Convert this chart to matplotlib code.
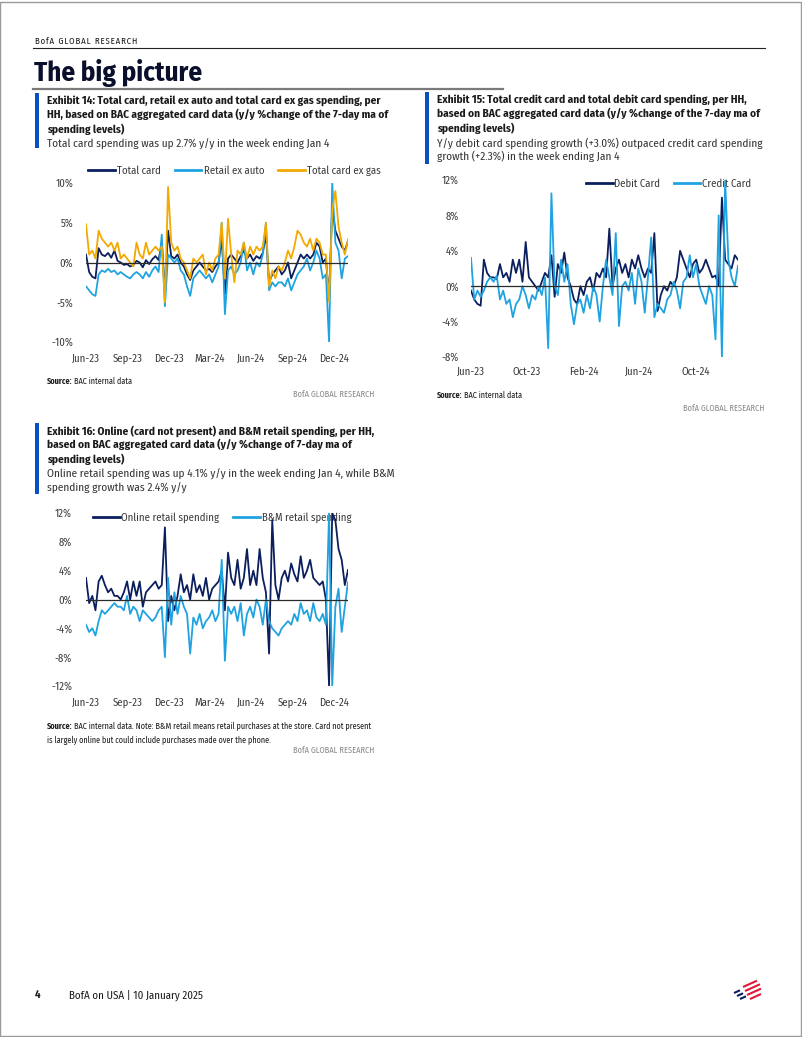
import matplotlib
matplotlib.use("Agg")
import matplotlib.pyplot as plt
import matplotlib.dates as mdates
from matplotlib.lines import Line2D
from matplotlib.patches import Rectangle
import pandas as pd

W, H = 802, 1037

# ---------------- data (weekly readings of the 7-day ma y/y % change) ----------------
dates = pd.date_range("2023-06-01", periods=84, freq="7D")

total_card = [1.0, -1.2, -1.8, -2.0, 1.8, 1.0, 0.8, 1.2, 0.6, 1.5,
              0.2, 0.0, -0.3, -0.2, -0.5, -0.3, 0.2, 0.0, -0.6, 0.3,
              -0.2, 0.4, 0.8, 0.3, 2.5, -3.5, 4.0, 0.8, 0.5, 1.0,
              0.0, -0.5, -1.5, -2.2, -1.0, -0.5, 0.0, -0.5, -1.0, -0.8,
              -1.2, -0.5, 0.0, 3.0, -4.0, 0.5, 1.0, 0.5, 0.0, 0.8,
              1.5, 0.5, 1.0, 0.2, 0.8, 0.5, 1.2, 3.5, -2.5, -1.5,
              -1.0, -0.5, -1.5, -1.0, 0.0, -2.0, -1.0, 0.0, 1.0, 0.5,
              1.0, 0.5, 1.0, 2.5, 2.0, 0.0, 0.5, -4.5, 7.0, 4.0,
              3.0, 2.0, 1.5, 2.7]
retail_ex_auto = [-3.0, -3.5, -4.0, -4.2, -1.5, -1.0, -1.2, -0.8, -1.2, -1.0,
                  -1.5, -1.2, -1.5, -1.8, -2.0, -1.5, -1.2, -1.5, -2.0, -1.2,
                  -1.8, -1.0, -0.5, -1.2, 3.5, -5.5, 1.0, 0.5, 0.0, 0.5,
                  -1.0, -1.5, -3.0, -4.2, -2.0, -1.5, -1.0, -1.5, -2.0, -1.5,
                  -2.5, -1.5, -0.5, 5.0, -6.5, -1.0, -0.5, -1.5, -1.0, 0.0,
                  2.5, -1.0, 0.0, -1.5, 0.0, -0.5, 1.0, 5.0, -3.5, -2.5,
                  -3.0, -2.5, -2.5, -3.0, -2.0, -3.5, -2.5, -1.5, -1.0, -0.5,
                  0.5, -1.0, 0.0, 1.5, 0.5, -2.0, -1.5, -10.0, 10.0, 2.5,
                  1.5, -2.0, 0.5, 0.8]
total_card_ex_gas = [4.8, 1.0, 1.5, 0.5, 4.0, 3.0, 2.5, 2.0, 2.5, 1.5,
                     2.5, 0.5, 1.0, 0.5, 0.0, -0.5, 2.5, 1.0, 0.5, 2.5,
                     1.0, 1.5, 2.0, 1.5, 2.0, -5.0, 9.5, 2.5, 1.5, 2.0,
                     0.5, 0.0, -1.0, -2.0, 0.5, 0.0, 0.5, 1.0, -1.5, 0.0,
                     -1.0, 0.5, 1.0, 5.0, -2.0, 5.5, 1.0, -2.5, 1.5, 1.0,
                     2.5, 0.5, 2.0, 1.0, 2.0, 1.5, 2.0, 5.0, -3.0, -1.0,
                     -2.0, -0.5, -1.0, 0.0, 1.5, 0.5, 2.0, 4.0, 3.5, 2.5,
                     2.0, 3.0, 1.5, 3.0, 2.5, 1.0, 1.0, -5.0, 6.5, 9.0,
                     4.5, 2.5, 1.0, 2.9]

debit_card = [-0.5, -1.5, -2.0, -2.2, 3.0, 1.5, 1.0, 1.0, 0.8, 2.5,
              1.0, 1.5, 0.5, 3.0, 1.5, 3.0, 0.5, 5.0, 1.0, 0.5,
              0.0, -0.5, 0.5, 1.5, 1.0, 3.5, -1.2, 2.5, 1.5, 3.8,
              1.0, 0.0, -1.5, -2.0, 0.0, -1.0, 0.5, 1.0, -0.5, 1.5,
              1.0, 2.0, 1.0, 6.5, 0.0, 2.0, 3.0, 1.5, 2.5, 1.0,
              3.0, 2.0, 3.5, 2.0, 1.0, 2.0, 1.5, 6.0, -2.8, -1.0,
              0.0, -0.5, 0.5, 0.0, 1.0, 4.0, 3.0, 2.0, 1.0, 2.5,
              3.0, 1.5, 2.0, 3.0, 2.0, 1.0, 1.2, 0.0, 10.0, 3.0,
              2.5, 2.0, 3.5, 3.0]
credit_card = [3.2, -1.5, -0.5, -1.2, -0.5, 0.5, 1.0, 0.5, 1.2, -1.5,
               -0.5, -2.0, -1.5, -3.5, -2.0, -1.5, 0.0, -1.0, -2.5, -1.0,
               -1.5, 0.0, -1.0, 1.0, -7.0, 10.5, 0.0, -1.0, 3.0, 0.5,
               2.5, -2.0, -4.3, -2.0, -1.5, -3.0, -1.0, -2.5, 0.0, -1.0,
               -4.0, 0.0, 3.0, 1.0, -1.0, 6.0, -4.5, 0.0, 0.5, -0.5,
               1.5, -2.0, 2.0, 0.5, -3.0, 1.0, 5.5, -3.5, -2.0, -2.5,
               -3.0, -1.5, -1.0, 0.5, -0.5, -2.5, 0.5, 1.0, 3.5, 1.0,
               2.5, 0.0, -1.0, -2.0, 0.0, -1.0, -6.0, 8.0, -8.0, 12.0,
               3.0, 1.0, 0.0, 2.3]

online_retail = [3.0, -0.5, 0.5, -1.5, 2.5, 3.3, 2.0, 1.0, 1.5, 0.5,
                 0.5, 0.0, 1.0, 2.5, 0.0, 2.5, 0.5, 2.5, -1.0, 1.0,
                 1.5, 2.0, 2.5, 1.5, 2.0, 10.0, -3.0, 0.5, -1.5, 0.5,
                 3.5, 1.0, 2.0, 0.0, 3.5, 1.0, 2.0, 0.5, 3.0, 0.0,
                 1.5, 2.0, 2.5, 4.0, -1.5, 6.5, 3.0, 2.0, 5.5, 1.5,
                 3.0, 7.0, 2.0, 4.0, 2.0, 7.0, 3.0, 1.0, -7.5, 11.0,
                 2.0, 0.0, 3.0, 4.0, 2.5, 5.0, 3.5, 2.5, 6.0, 3.0,
                 4.0, 5.5, 3.0, 2.5, 2.0, 2.5, 0.0, -12.0, 12.0, 11.0,
                 7.0, 5.5, 2.0, 4.1]
bm_retail = [-3.5, -4.5, -4.0, -5.0, -3.0, -1.5, -2.0, -1.5, -1.0, -0.5,
             -1.0, -1.0, -1.5, 0.5, -2.0, -1.0, -1.5, -3.0, -1.5, -2.0,
             -2.5, -3.0, -2.5, -1.5, -1.0, -8.0, 3.0, -3.5, 1.0, -2.0,
             0.5, -1.0, -2.0, -7.5, -2.5, -3.5, -2.0, -4.0, -3.0, -2.5,
             -1.5, -3.0, -2.0, 5.5, -8.5, -1.0, -2.0, -1.0, -3.0, -0.5,
             -5.0, -2.0, -1.0, -2.5, 0.0, -1.0, -3.5, 0.0, -3.0, -4.0,
             -4.5, -5.0, -4.0, -3.5, -3.0, -3.5, -2.0, -3.0, -0.5, -2.0,
             -1.5, -3.0, -0.5, -2.5, -3.0, -2.0, -3.5, 12.0, -12.0, -1.0,
             1.5, -4.5, -1.0, 2.4]

ticks14 = [-10, -5, 0, 5, 10]
ticks15 = [-8, -4, 0, 4, 8, 12]
ticks16 = [-12, -8, -4, 0, 4, 8, 12]

# ---------------- styling ----------------
FONT = ["Fira Sans Condensed", "DejaVu Sans"]
plt.rcParams["font.family"] = FONT

NAVY = "#0b1f5e"
LBLUE = "#1fa3e0"
GOLD = "#f2a900"
BAR = "#0a4fc4"
TXT = "#1a1a1a"
TSIZE = 8.1
LSIZE = 7.7

fig = plt.figure(figsize=(W / 100, H / 100), dpi=100)


def fx(x):
    return x / W


def fy(y):
    return 1 - y / H


def add_ax(l, r, t, b):
    return fig.add_axes([fx(l), fy(b), fx(r) - fx(l), (b - t) / H])


def style_ax(ax, yticks, ylim, months, ypad, xpad):
    ax.set_ylim(*ylim)
    ax.set_xlim(dates[0], dates[-1])
    for s in ax.spines.values():
        s.set_visible(False)
    ax.set_yticks(yticks)
    ax.set_yticklabels([f"{v}%" for v in yticks])
    ax.xaxis.set_major_locator(mdates.MonthLocator(bymonth=months, bymonthday=1))
    ax.xaxis.set_major_formatter(mdates.DateFormatter("%b-%y"))
    ax.tick_params(axis="both", length=0, labelsize=LSIZE, colors="#3a3a3a")
    ax.tick_params(axis="y", pad=ypad)
    ax.tick_params(axis="x", pad=xpad)
    ax.axhline(0, color="#2b2b2b", lw=0.9, zorder=5)
    ax.patch.set_alpha(0)


# page frame
fig.add_artist(Rectangle((0.0005, 0.0005), 0.998, 0.998, transform=fig.transFigure,
                         fill=False, edgecolor="#9a9a9a", lw=1.0))

# header
fig.text(fx(35), fy(41), "B o f A   G L O B A L   R E S E A R C H".replace("   ", "\u2002").replace(" ", "\u200a"),
         fontsize=6.3, color=TXT, va="center", ha="left")
fig.add_artist(Line2D([fx(33), fx(765)], [fy(48), fy(48)], color="#222222", lw=0.8))
fig.text(fx(34), fy(73), "The big picture", fontsize=19.5, fontweight="bold", color="#0a0f2c",
         va="center", ha="left")
fig.add_artist(Line2D([fx(33), fx(503)], [fy(89), fy(89)], color="#7a7a7a", lw=1.6))


def exhibit_header(x, ytop, lines_bold, lines_sub, bar_x, bar_bottom):
    y = ytop
    for ln in lines_bold:
        fig.text(fx(x), fy(y), ln, fontsize=TSIZE, fontweight="bold", color=TXT, va="center", ha="left")
        y += 14
    for ln in lines_sub:
        fig.text(fx(x), fy(y + 1), ln, fontsize=TSIZE, color="#333333", va="center", ha="left")
        y += 14
    fig.add_artist(Rectangle((fx(bar_x), fy(bar_bottom)), 4 / W, (bar_bottom - (ytop - 8)) / H,
                             transform=fig.transFigure, color=BAR, lw=0))


def legend(ax, x, y, spacing, pad):
    leg = ax.legend(loc="center left", bbox_to_anchor=(fx(x), fy(y)), bbox_transform=fig.transFigure,
                    ncol=3, frameon=False, fontsize=LSIZE, handlelength=2.5, handletextpad=pad,
                    columnspacing=spacing, borderaxespad=0, borderpad=0)
    leg.set_zorder(0)
    for t in leg.get_texts():
        t.set_color("#3a3a3a")
    for h in leg.get_lines():
        h.set_linewidth(2.0)
    return leg


def source(x, y, rest):
    fig.text(fx(x), fy(y), "Source:", fontsize=5.9, fontweight="bold", color=TXT, va="center")
    fig.text(fx(x + 27), fy(y), rest, fontsize=5.9, color=TXT, va="center")


def brand(x, y):
    fig.text(fx(x), fy(y), "BofA GLOBAL RESEARCH", fontsize=6.0, color="#8a8a8a",
             va="center", ha="right")


# ---------------- Exhibit 14 ----------------
exhibit_header(47, 101,
               ["Exhibit 14: Total card, retail ex auto and total card ex gas spending, per",
                "HH, based on BAC aggregated card data (y/y %change of the 7-day ma of",
                "spending levels)"],
               ["Total card spending was up 2.7% y/y in the week ending Jan 4"], 35, 148)
ax14 = add_ax(86, 348, 183, 342)
ax14.plot(dates, total_card, color=NAVY, lw=1.3, label="Total card")
ax14.plot(dates, retail_ex_auto, color=LBLUE, lw=1.3, label="Retail ex auto")
ax14.plot(dates, total_card_ex_gas, color=GOLD, lw=1.3, label="Total card ex gas")
style_ax(ax14, ticks14, (-10, 10), [3, 6, 9, 12], 9, 8)
legend(ax14, 88, 171, 1.3, 0.2)
source(47, 381, "BAC internal data")
brand(374, 394)

# ---------------- Exhibit 15 ----------------
exhibit_header(437, 100,
               ["Exhibit 15: Total credit card and total debit card spending, per HH,",
                "based on BAC aggregated card data (y/y %change of the 7-day ma of",
                "spending levels)"],
               ["Y/y debit card spending growth (+3.0%) outpaced credit card spending",
                "growth (+2.3%) in the week ending Jan 4"], 425, 164)
ax15 = add_ax(471, 738, 180, 357)
ax15.plot(dates, debit_card, color=NAVY, lw=1.3, label="Debit Card")
ax15.plot(dates, credit_card, color=LBLUE, lw=1.3, label="Credit Card")
style_ax(ax15, ticks15, (-8, 12), [2, 6, 10], 9, 7)
legend(ax15, 586, 184, 1.3, 0.1)
source(437, 395, "BAC internal data")
brand(764, 408)

# ---------------- Exhibit 16 ----------------
exhibit_header(47, 431,
               ["Exhibit 16: Online (card not present) and B&M retail spending, per HH,",
                "based on BAC aggregated card data (y/y %change of 7-day ma of",
                "spending levels)"],
               ["Online retail spending was up 4.1% y/y in the week ending Jan 4, while B&M",
                "spending growth was 2.4% y/y"], 35, 494)
ax16 = add_ax(86, 348, 513, 686)
ax16.plot(dates, online_retail, color=NAVY, lw=1.3, label="Online retail spending")
ax16.plot(dates, bm_retail, color=LBLUE, lw=1.3, label="B&M retail spending")
style_ax(ax16, ticks16, (-12, 12), [3, 6, 9, 12], 10, 8)
legend(ax16, 93, 518, 1.3, 0.15)
source(47, 726, "BAC internal data. Note: B&M retail means retail purchases at the store. Card not present")
fig.text(fx(47), fy(740), "is largely online but could include purchases made over the phone.",
         fontsize=5.9, color=TXT, va="center")
brand(374, 750)

# ---------------- footer ----------------
fig.text(fx(35), fy(995), "4", fontsize=7.8, fontweight="bold", color=TXT, va="center")
fig.text(fx(69), fy(995), "BofA on USA | 10 January 2025", fontsize=7.9, color=TXT, va="center")
# logo stripes
for c, x0, y0, ln in [(NAVY, 734, 993, 6), (NAVY, 737, 996, 6), (NAVY, 740, 999, 6),
                      ("#e31837", 743, 987, 14), ("#e31837", 745, 991, 15),
                      ("#e31837", 747, 995, 14), ("#e31837", 750, 999, 11)]:
    fig.add_artist(Line2D([fx(x0), fx(x0 + ln)], [fy(y0), fy(y0 - ln * 0.45)], color=c, lw=1.5,
                          solid_capstyle="butt"))

fig.savefig("out.png", dpi=100)
